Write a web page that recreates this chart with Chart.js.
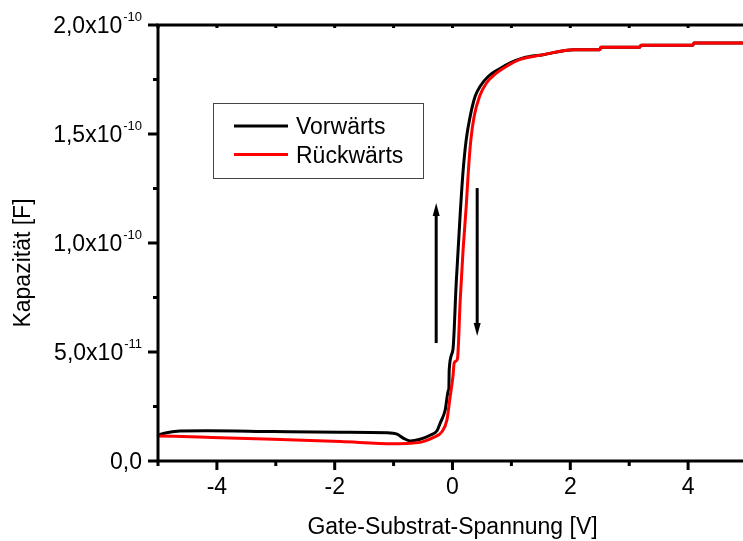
<!DOCTYPE html>
<html>
<head>
<meta charset="utf-8">
<script src="https://cdn.jsdelivr.net/npm/chart.js@4"></script>
<style>
  html, body { margin: 0; padding: 0; background: #fff; overflow: hidden; }
  #wrap { position: relative; width: 760px; height: 541px; }
</style>
</head>
<body>
<div id="wrap"><canvas id="chart"></canvas></div>
<script>
const FONT = "'Liberation Sans', Arial, sans-serif";

// Gate-Substrat-Spannung in V, Kapazität in pF
const vorwaertsV = [-5.0, -4.85, -4.63, -4.17, -3.04, -1.9, -1.11, -0.94, -0.83, -0.72, -0.55, -0.38, -0.26, -0.21, -0.124, -0.068, -0.062, -0.056, 0.007, 0.063, 0.131, 0.177, 0.233, 0.30, 0.385, 0.47, 0.61, 0.78, 0.98, 1.2, 1.54, 2.06, 2.5, 2.52, 3.18, 3.2, 4.08, 4.1, 5.0];
const vorwaertsC = [12.0, 13.0, 13.8, 13.9, 13.5, 13.2, 13.0, 12.3, 10.4, 9.2, 10.0, 11.8, 14.0, 17.3, 23.4, 32.6, 33.0, 41.8, 51.0, 81.6, 113.5, 132.1, 147.4, 158.1, 167.3, 171.9, 176.5, 179.6, 182.6, 184.9, 186.4, 188.7, 188.7, 189.8, 189.8, 190.7, 190.7, 191.7, 191.7];

const rueckwaertsV = [-5.0, -4.17, -3.04, -1.9, -1.0, -0.72, -0.5, -0.33, -0.18, -0.095, -0.04, 0.007, 0.029, 0.06, 0.085, 0.131, 0.18, 0.233, 0.267, 0.312, 0.368, 0.46, 0.58, 0.75, 0.92, 1.15, 1.54, 2.06, 2.5, 2.52, 3.18, 3.2, 4.08, 4.1, 5.0];
const rueckwaertsC = [11.5, 10.9, 10.0, 8.9, 7.9, 8.1, 8.9, 10.7, 13.4, 18.8, 29.5, 38.7, 45.0, 45.8, 47.0, 73.9, 97.0, 116.8, 132.1, 147.4, 158.1, 167.3, 173.5, 178.0, 181.1, 184.2, 186.4, 188.7, 188.7, 189.8, 189.8, 190.7, 190.7, 191.7, 191.7];

const seriesLabels = ['Vorwärts', 'Rückwärts'];
const seriesColors = ['#000000', '#ff0000'];

const xTickValues = [-4, -2, 0, 2, 4];

// arrows: [V, C from, C to] in pF
const arrowUp = [-0.277, 54.1, 118.3];
const arrowDown = [0.419, 125.2, 57.3];

const PF = 1e-12;

function toPoints(xs, ys) {
  return xs.map((x, i) => ({ x: x, y: ys[i] * PF }));
}

function splitLabel(v) {
  if (Math.abs(v) < 1e-20) return ['0,0', ''];
  const e = Math.floor(Math.log10(v) + 1e-9);
  const m = v / Math.pow(10, e);
  return [m.toFixed(1).replace('.', ',') + 'x10', String(e)];
}

function drawArrow(ctx, x, y0, y1) {
  const dir = y1 < y0 ? 1 : -1;
  ctx.beginPath();
  ctx.moveTo(x, y0);
  ctx.lineTo(x, y1 + dir * 10);
  ctx.stroke();
  ctx.beginPath();
  ctx.moveTo(x, y1);
  ctx.lineTo(x - 3.5, y1 + dir * 13);
  ctx.lineTo(x + 3.5, y1 + dir * 13);
  ctx.closePath();
  ctx.fill();
}

const decor = {
  id: 'decor',
  afterDraw(chart) {
    const { ctx, chartArea: a, scales: { x, y } } = chart;
    ctx.save();
    ctx.strokeStyle = '#000';
    ctx.fillStyle = '#000';
    ctx.lineWidth = 3;
    ctx.strokeRect(a.left, a.top, a.right - a.left, a.bottom - a.top);

    // x ticks
    for (let v = -5; v <= 5; v++) {
      const px = x.getPixelForValue(v);
      const len = v % 2 === 0 ? 9 : 5;
      ctx.beginPath();
      ctx.moveTo(px, a.bottom);
      ctx.lineTo(px, a.bottom + len);
      ctx.moveTo(px, a.top);
      ctx.lineTo(px, a.top + 3);
      ctx.stroke();
    }
    // y ticks
    for (let i = 0; i <= 8; i++) {
      const py = y.getPixelForValue(i * 2.5e-11);
      const len = i % 2 === 0 ? 10 : 5;
      ctx.beginPath();
      ctx.moveTo(a.left - len, py);
      ctx.lineTo(a.left, py);
      ctx.stroke();
    }

    // y tick labels with exponent
    ctx.textBaseline = 'alphabetic';
    ctx.textAlign = 'right';
    y.ticks.forEach(t => {
      const py = y.getPixelForValue(t.value);
      const [base, exp] = splitLabel(t.value);
      let right = a.left - 16;
      if (exp) {
        ctx.font = '13px ' + FONT;
        ctx.fillText(exp, right, py - 4.5);
        right -= ctx.measureText(exp).width + 1;
      }
      ctx.font = '23px ' + FONT;
      ctx.fillText(base, right, py + 8.2);
    });

    // y title
    ctx.save();
    ctx.translate(30, 263);
    ctx.rotate(-Math.PI / 2);
    ctx.textAlign = 'center';
    ctx.font = '23px ' + FONT;
    ctx.fillText('Kapazität [F]', 0, 0);
    ctx.restore();

    // arrows
    ctx.lineWidth = 3;
    drawArrow(ctx, x.getPixelForValue(arrowUp[0]), y.getPixelForValue(arrowUp[1] * PF), y.getPixelForValue(arrowUp[2] * PF));
    drawArrow(ctx, x.getPixelForValue(arrowDown[0]), y.getPixelForValue(arrowDown[1] * PF), y.getPixelForValue(arrowDown[2] * PF));

    // legend
    ctx.lineWidth = 1;
    ctx.strokeStyle = '#444';
    ctx.strokeRect(213.5, 103.5, 210, 75);
    ctx.textAlign = 'left';
    ctx.font = '23px ' + FONT;
    const baselines = [134.3, 162.7];
    seriesLabels.forEach((label, i) => {
      ctx.strokeStyle = seriesColors[i];
      ctx.lineWidth = 3;
      ctx.beginPath();
      ctx.moveTo(234, baselines[i] - 8.3);
      ctx.lineTo(288, baselines[i] - 8.3);
      ctx.stroke();
      ctx.fillStyle = '#000';
      ctx.fillText(label, 296, baselines[i]);
    });
    ctx.restore();
  }
};

new Chart(document.getElementById('chart'), {
  type: 'scatter',
  data: {
    datasets: [
      {
        label: seriesLabels[0],
        data: toPoints(vorwaertsV, vorwaertsC),
        borderColor: seriesColors[0],
        order: 1
      },
      {
        label: seriesLabels[1],
        data: toPoints(rueckwaertsV, rueckwaertsC),
        borderColor: seriesColors[1],
        order: 0
      }
    ]
  },
  options: {
    responsive: true,
    maintainAspectRatio: false,
    animation: false,
    showLine: true,
    elements: {
      point: { radius: 0 },
      line: { borderWidth: 3, cubicInterpolationMode: 'monotone', fill: false }
    },
    layout: { padding: { top: 25, right: 13, left: 0, bottom: 0 } },
    plugins: {
      legend: { display: false },
      tooltip: { enabled: false }
    },
    scales: {
      x: {
        type: 'linear',
        min: -5,
        max: 5,
        grid: { display: false, drawTicks: true, tickLength: 9 },
        border: { display: false },
        afterBuildTicks: (scale) => {
          scale.ticks = xTickValues.map(v => ({ value: v }));
        },
        ticks: {
          padding: 4,
          color: '#000',
          font: { family: FONT, size: 23 },
          maxRotation: 0,
          callback: (v) => String(v)
        },
        title: {
          display: true,
          text: 'Gate-Substrat-Spannung [V]',
          color: '#000',
          font: { family: FONT, size: 23 },
          padding: { top: 0, bottom: 0 }
        },
        afterFit: (scale) => { scale.height = 80; }
      },
      y: {
        type: 'linear',
        min: 0,
        max: 2e-10,
        grid: { display: false },
        border: { display: false },
        ticks: { display: false, stepSize: 5e-11 },
        afterFit: (scale) => { scale.width = 158; }
      }
    }
  },
  plugins: [decor]
});
</script>
</body>
</html>
